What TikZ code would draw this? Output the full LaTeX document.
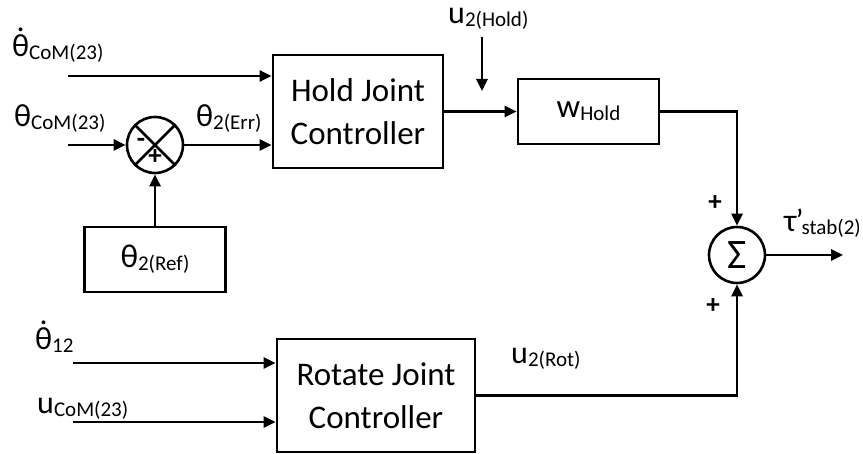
\documentclass[tikz,border=0pt]{standalone}
\usepackage{fontspec}
\setmainfont{Carlito}
\usetikzlibrary{arrows.meta,positioning}
\newcommand{\lowsub}[1]{\raisebox{-3pt}{\fontsize{21}{21}\selectfont #1}}
\newcommand{\thdot}{\ooalign{θ\cr\hidewidth\raisebox{25pt}{.}\hidewidth\cr}}
\tikzset{
  block/.style={draw,line width=2.8pt,inner sep=0pt,align=center,
    font=\fontsize{33}{43}\selectfont},
  junction/.style={draw,circle,line width=2.6pt,minimum size=56pt,inner sep=0pt},
  arrow/.style={-{Triangle[length=12pt,width=11pt]},line width=2.6pt},
  line/.style={line width=2.6pt},
  sig/.style={font=\fontsize{32}{32}\selectfont,inner sep=0pt},
  sign/.style={font=\fontsize{27}{27}\selectfont,inner sep=0pt}
}
\begin{document}
\begin{tikzpicture}[x=1pt,y=-1pt]
  \useasboundingbox (0,0) rectangle (863,454);
  % blocks
  \node[block,minimum width=170pt,minimum height=113pt] (hold) at (358,111.5) {Hold Joint\\Controller};
  \node[block,minimum width=198pt,minimum height=113pt] (rot) at (376,395.5) {Rotate Joint\\Controller};
  \node[block,minimum width=141pt,minimum height=65pt] (whold) at (588.5,111.5) {w\lowsub{Hold}};
  \node[block,minimum width=141pt,minimum height=65pt] (ref) at (155,259.5) {θ\lowsub{2(Ref)}};
  % junctions
  \node[junction] (err) at (155,145) {};
  \draw[line] (err.north west) -- (err.south east);
  \draw[line] (err.north east) -- (err.south west);
  \node[sign] (minus) at (141,143) {\textbf{-}};
  \node[sign] (plus) at (155,157) {\textbf{+}};
  \node[junction,font=\fontsize{42}{42}\selectfont] (sum) at (737,255) {Σ};
  % inputs
  \coordinate (in1) at (68,76);
  \coordinate (in2) at (68,145);
  \coordinate (in3) at (73,363);
  \coordinate (in4) at (73,422);
  \node[sig,anchor=base west] (lbl1) at (12,57) {\thdot\lowsub{CoM(23)}};
  \node[sig,anchor=base west] (lbl2) at (14,127) {θ\lowsub{CoM(23)}};
  \node[sig,anchor=base west] (lbl3) at (35,350) {\thdot\lowsub{12}};
  \node[sig,anchor=base west] (lbl4) at (37,414) {u\lowsub{CoM(23)}};
  \draw[arrow] (in1) -- (in1 -| hold.west);
  \draw[arrow] (in2) -- (err.west);
  \draw[arrow] (err.east) -- (err -| hold.west);
  \node[sig,anchor=base west] (errlbl) at (196,127) {θ\lowsub{2(Err)}};
  \draw[arrow] (ref.north) -- (err.south);
  \draw[arrow] (in3) -- (in3 -| rot.west);
  \draw[arrow] (in4) -- (in4 -| rot.west);
  % hold branch
  \draw[arrow] (hold.east) -- (whold.west);
  \coordinate (uh) at (482,37);
  \coordinate (uhend) at (482,91);
  \draw[arrow] (uh) -- (uhend);
  \node[sig,anchor=base west] (uhlbl) at (448,24) {u\lowsub{2(Hold)}};
  \draw[arrow] (whold.east) -| (sum.north);
  \node[sign] (ptop) at (715,203) {\textbf{+}};
  % rotate branch
  \draw[arrow] (rot.east) -| (sum.south);
  \node[sig,anchor=base west] (urlbl) at (511,364) {u\lowsub{2(Rot)}};
  \node[sign] (pbot) at (713,306) {\textbf{+}};
  % output
  \coordinate (out) at (843,255);
  \draw[arrow] (sum.east) -- (out);
  \node[sig,anchor=base west] (taulbl) at (784,232) {τ\kern-1pt’\kern-2pt\lowsub{stab(2)}};
\end{tikzpicture}
\end{document}
